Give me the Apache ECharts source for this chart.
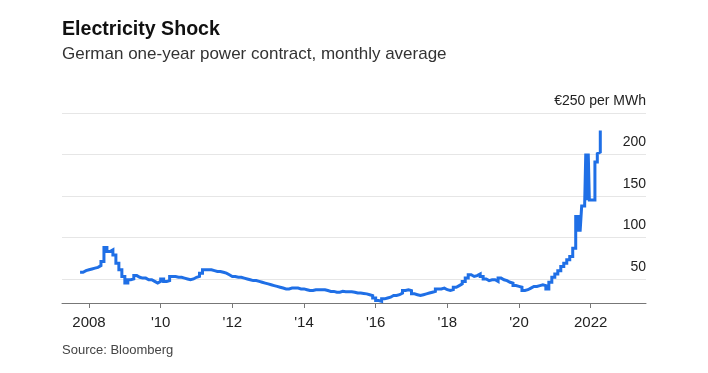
<!DOCTYPE html>
<html><head><meta charset="utf-8">
<script src="https://cdn.jsdelivr.net/npm/echarts@6/dist/echarts.min.js"></script>
<style>html,body{margin:0;padding:0;background:#fff;}#chart{width:708px;height:373px;}</style>
</head><body><div id="chart"></div>
<script>
const dates = [
  '2007-10-01','2007-11-01','2007-12-01',
  '2008-01-01','2008-02-01','2008-03-01','2008-04-01','2008-05-01','2008-06-01','2008-07-01','2008-08-01','2008-09-01','2008-10-01','2008-11-01','2008-12-01',
  '2009-01-01','2009-02-01','2009-03-01','2009-04-01','2009-05-01','2009-06-01','2009-07-01','2009-08-01','2009-09-01','2009-10-01','2009-11-01','2009-12-01',
  '2010-01-01','2010-02-01','2010-03-01','2010-04-01','2010-05-01','2010-06-01','2010-07-01','2010-08-01','2010-09-01','2010-10-01','2010-11-01','2010-12-01',
  '2011-01-01','2011-02-01','2011-03-01','2011-04-01','2011-05-01','2011-06-01','2011-07-01','2011-08-01','2011-09-01','2011-10-01','2011-11-01','2011-12-01',
  '2012-01-01','2012-02-01','2012-03-01','2012-04-01','2012-05-01','2012-06-01','2012-07-01','2012-08-01','2012-09-01','2012-10-01','2012-11-01','2012-12-01',
  '2013-01-01','2013-02-01','2013-03-01','2013-04-01','2013-05-01','2013-06-01','2013-07-01','2013-08-01','2013-09-01','2013-10-01','2013-11-01','2013-12-01',
  '2014-01-01','2014-02-01','2014-03-01','2014-04-01','2014-05-01','2014-06-01','2014-07-01','2014-08-01','2014-09-01','2014-10-01','2014-11-01','2014-12-01',
  '2015-01-01','2015-02-01','2015-03-01','2015-04-01','2015-05-01','2015-06-01','2015-07-01','2015-08-01','2015-09-01','2015-10-01','2015-11-01','2015-12-01',
  '2016-01-01','2016-02-01','2016-03-01','2016-04-01','2016-05-01','2016-06-01','2016-07-01','2016-08-01','2016-09-01','2016-10-01','2016-11-01','2016-12-01',
  '2017-01-01','2017-02-01','2017-03-01','2017-04-01','2017-05-01','2017-06-01','2017-07-01','2017-08-01','2017-09-01','2017-10-01','2017-11-01','2017-12-01',
  '2018-01-01','2018-02-01','2018-03-01','2018-04-01','2018-05-01','2018-06-01','2018-07-01','2018-08-01','2018-09-01','2018-10-01','2018-11-01','2018-12-01',
  '2019-01-01','2019-02-01','2019-03-01','2019-04-01','2019-05-01','2019-06-01','2019-07-01','2019-08-01','2019-09-01','2019-10-01','2019-11-01','2019-12-01',
  '2020-01-01','2020-02-01','2020-03-01','2020-04-01','2020-05-01','2020-06-01','2020-07-01','2020-08-01','2020-09-01','2020-10-01','2020-11-01','2020-12-01',
  '2021-01-01','2021-02-01','2021-03-01','2021-04-01','2021-05-01','2021-06-01','2021-07-01',
  '2021-08-01','2021-08-16','2021-09-01','2021-09-15','2021-10-01',
  '2021-11-01','2021-11-12','2021-11-26','2021-12-07','2021-12-18',
  '2022-02-14','2022-03-08','2022-03-28','2022-04-08'
];
const prices = [
  58, 60, 61,
  62, 63, 64, 66, 71, 88, 83, 85, 79, 69, 61, 53,
  45, 49, 50, 54, 52, 51, 51, 49, 49, 47, 45, 47,
  50, 47, 48, 53, 53, 52, 52, 51, 50, 49, 50, 52,
  53, 57, 61, 61, 61, 60, 59, 59, 58, 57, 55, 53,
  53, 52, 52, 51, 50, 49, 48, 48, 47, 46, 45, 44,
  43, 42, 41, 40, 39, 38, 38, 39, 39, 39, 38, 38,
  37, 36, 36, 37, 37, 37, 37, 36, 35, 35, 34, 34,
  35, 34.5, 34.5, 34.5, 34, 33, 33, 32.5, 32, 31, 30, 27,
  24, 23, 26, 27, 28, 30, 30, 31, 33, 36, 37, 36,
  32, 31, 30, 31, 32, 33, 34, 35, 38, 38, 39, 37,
  36, 37, 40, 42, 44, 47, 51, 55, 53, 54, 56, 53,
  50, 48, 49, 49, 47, 51, 49, 48, 46, 45, 42, 41,
  40, 36, 37, 39, 41, 41, 42, 43, 42, 38, 46, 52,
  56, 60, 65, 69, 73, 77, 87,
  127, 107, 127, 107, 138,
  141, 201, 145, 201, 145,
  191, 201, 203, 229
];
const xTickYears = [2008, 2010, 2012, 2014, 2016, 2018, 2020, 2022];
const xTickLabels = ['2008', "'10", "'12", "'14", "'16", "'18", "'20", '2022'];
const yTickValues = [50, 100, 150, 200, 250];
const yTickLabels = ['50', '100', '150', '200', '€250 per MWh'];

function toYear(s) {
  const p = s.split('-').map(Number);
  return p[0] + (p[1] - 1 + (p[2] - 1) / 30) / 12;
}
const seriesData = dates.map((d, i) => [toYear(d), prices[i]]);
const FONT = '"Liberation Sans", Arial, sans-serif';

const chart = echarts.init(document.getElementById('chart'), null, {renderer: 'canvas'});
chart.setOption({
  animation: false,
  backgroundColor: '#fff',
  title: [
    {text: 'Electricity Shock', left: 62, top: 20, padding: 0,
     textStyle: {fontFamily: FONT, fontSize: 19.6, fontWeight: 'bold', color: '#111'}},
    {text: 'German one-year power contract, monthly average', left: 62, top: 46, padding: 0,
     textStyle: {fontFamily: FONT, fontSize: 17, fontWeight: 'normal', color: '#333'}},
    {text: 'Source: Bloomberg', left: 62, top: 344, padding: 0,
     textStyle: {fontFamily: FONT, fontSize: 13, fontWeight: 'normal', color: '#444'}}
  ],
  grid: {left: 62, right: 62, top: 113, bottom: 70, containLabel: false},
  xAxis: {
    type: 'value', min: 2007.246, max: 2023.545,
    axisLine: {show: true, onZero: false, lineStyle: {color: '#777', width: 1}},
    axisTick: {show: true, customValues: xTickYears, length: 5, lineStyle: {color: '#777'}},
    axisLabel: {customValues: xTickYears, margin: 12, fontFamily: FONT, fontSize: 15, color: '#222',
      formatter: v => xTickLabels[xTickYears.indexOf(v)] || ''},
    splitLine: {show: false}
  },
  yAxis: {
    type: 'value', position: 'right', min: 21, max: 250,
    axisLine: {show: false},
    axisTick: {show: false, customValues: yTickValues},
    axisLabel: {customValues: yTickValues, inside: true, margin: 0, verticalAlign: 'bottom',
      padding: [0, 0, 5, 0], fontFamily: FONT, fontSize: 14, color: '#222',
      formatter: v => yTickLabels[yTickValues.indexOf(v)] || ''},
    splitLine: {show: true, lineStyle: {color: '#e6e6e6', width: 1}}
  },
  series: [{
    type: 'line', step: 'end', data: seriesData, showSymbol: false, symbol: 'none',
    lineStyle: {color: '#1f6fe6', width: 3, join: 'miter'}, clip: false
  }]
});
</script></body></html>
